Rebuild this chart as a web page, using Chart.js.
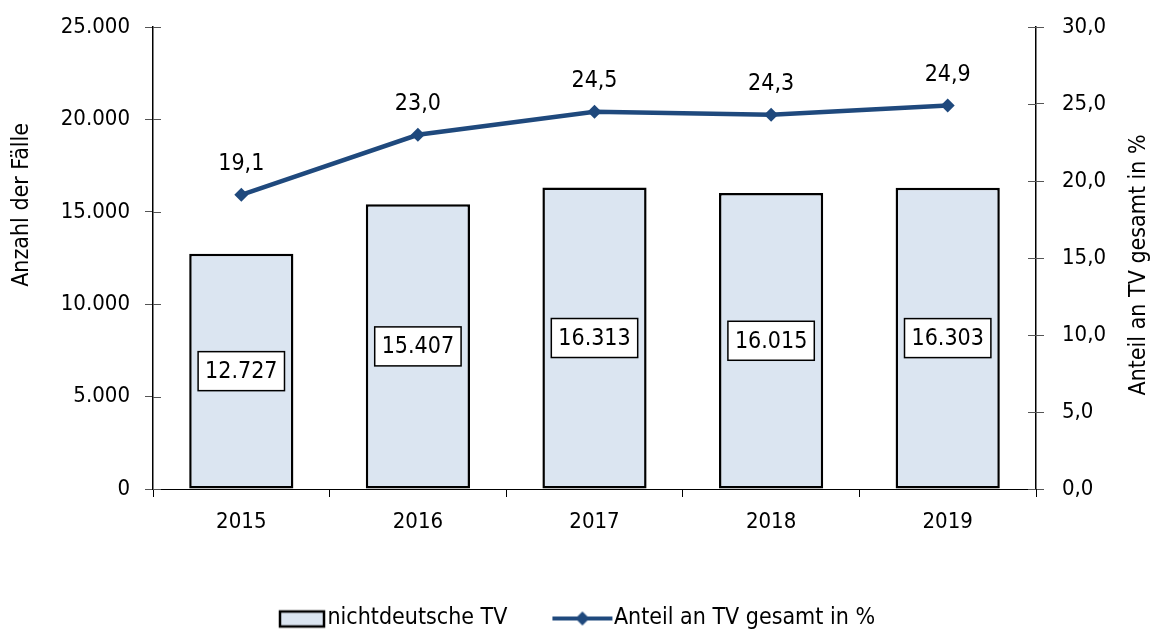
<!DOCTYPE html>
<html>
<head>
<meta charset="utf-8">
<script src="https://cdn.jsdelivr.net/npm/chart.js@4.4.1/dist/chart.umd.min.js"></script>
<style>
  html, body { margin: 0; padding: 0; background: #fff; }
  #wrap { width: 1155px; height: 633px; }
</style>
</head>
<body>
<div id="wrap"><canvas id="chart"></canvas></div>
<script>
// Nichtdeutsche Tatverdächtige (TV), 2015-2019
const years = ['2015', '2016', '2017', '2018', '2019'];
const faelle = [12727, 15407, 16313, 16015, 16303];
const anteil = [19.1, 23.0, 24.5, 24.3, 24.9];

const FONT = "'Liberation Sans Narrow', 'Arial Narrow', 'DejaVu Sans Condensed', sans-serif";
const barFill = '#DBE5F1';
const lineColor = '#1F497D';

function fmtThousands(v) {
    return String(Math.round(v)).replace(/\B(?=(\d{3})+(?!\d))/g, '.');
}
function fmtPct(v) {
    return v.toFixed(1).replace('.', ',');
}

// legend icons
function legendIcon(kind) {
    const c = document.createElement('canvas');
    c.width = 84;
    c.height = 22;
    const g = c.getContext('2d');
    if (kind === 'bar') {
        g.fillStyle = barFill;
        g.fillRect(36, 4, 44, 15);
        g.strokeStyle = '#000';
        g.lineWidth = 2.5;
        g.strokeRect(36, 4, 44, 15);
    } else {
        g.strokeStyle = lineColor;
        g.lineWidth = 4;
        g.beginPath();
        g.moveTo(22, 11);
        g.lineTo(82, 11);
        g.stroke();
        g.fillStyle = lineColor;
        g.beginPath();
        g.moveTo(52, 4);
        g.lineTo(59, 11);
        g.lineTo(52, 18);
        g.lineTo(45, 11);
        g.closePath();
        g.fill();
    }
    return c;
}
const icons = [legendIcon('bar'), legendIcon('line')];

const valueLabels = {
    id: 'valueLabels',
    afterDatasetsDraw(chart) {
        const ctx = chart.ctx;
        ctx.save();
        ctx.font = '23px ' + FONT;
        ctx.textAlign = 'center';
        ctx.textBaseline = 'middle';
        chart.getDatasetMeta(0).data.forEach((bar, i) => {
            const txt = fmtThousands(faelle[i]);
            const cy = (bar.y + bar.base) / 2;
            const w = ctx.measureText(txt).width + 14;
            const h = 39;
            ctx.fillStyle = '#fff';
            ctx.fillRect(bar.x - w / 2, cy - h / 2, w, h);
            ctx.strokeStyle = '#000';
            ctx.lineWidth = 1.5;
            ctx.strokeRect(bar.x - w / 2, cy - h / 2, w, h);
            ctx.fillStyle = '#000';
            ctx.fillText(txt, bar.x, cy + 1);
        });
        chart.getDatasetMeta(1).data.forEach((pt, i) => {
            ctx.fillStyle = '#000';
            ctx.fillText(fmtPct(anteil[i]), pt.x, pt.y - 31);
        });
        ctx.restore();
    }
};

// axis titles (both read bottom-to-top) and tick marks crossing the axis lines
const axisExtras = {
    id: 'axisExtras',
    afterDraw(chart) {
        const ctx = chart.ctx;
        const area = chart.chartArea;
        const h = area.bottom - area.top;
        ctx.save();
        ctx.strokeStyle = '#555';
        ctx.lineWidth = 1;
        ['y', 'y1'].forEach(id => {
            const sc = chart.scales[id];
            const x = id === 'y' ? area.left : area.right;
            const dir = id === 'y' ? 1 : -1;
            sc.ticks.forEach(t => {
                const py = Math.round(sc.getPixelForValue(t.value)) + 0.5;
                ctx.beginPath();
                ctx.moveTo(x, py);
                ctx.lineTo(x + dir * 8, py);
                ctx.stroke();
            });
        });
        ctx.fillStyle = '#000';
        ctx.font = '23px ' + FONT;
        ctx.textAlign = 'center';
        ctx.textBaseline = 'middle';
        ctx.translate(22, area.top + h * 0.385);
        ctx.rotate(-Math.PI / 2);
        ctx.fillText('Anzahl der Fälle', 0, 0);
        ctx.restore();
        ctx.save();
        ctx.fillStyle = '#000';
        ctx.font = '23px ' + FONT;
        ctx.textAlign = 'center';
        ctx.textBaseline = 'middle';
        ctx.translate(1139, area.top + h * 0.515);
        ctx.rotate(-Math.PI / 2);
        ctx.fillText('Anteil an TV gesamt in %', 0, 0);
        ctx.restore();
    }
};

const ctx = document.getElementById('chart').getContext('2d');
const myChart = new Chart(ctx, {
    type: 'bar',
    data: {
        labels: years,
        datasets: [{
            type: 'bar',
            label: 'nichtdeutsche TV',
            data: faelle,
            yAxisID: 'y',
            backgroundColor: barFill,
            borderColor: '#000',
            borderWidth: 2.5,
            borderSkipped: false,
            barPercentage: 0.59,
            categoryPercentage: 1,
            order: 1
        }, {
            type: 'line',
            label: 'Anteil an TV gesamt in %',
            data: anteil,
            yAxisID: 'y1',
            borderColor: lineColor,
            backgroundColor: lineColor,
            borderWidth: 4.5,
            pointStyle: 'rectRot',
            pointRadius: 7,
            pointBackgroundColor: lineColor,
            pointBorderWidth: 0,
            tension: 0,
            order: 0
        }]
    },
    options: {
        responsive: true,
        maintainAspectRatio: false,
        animation: false,
        layout: { autoPadding: false, padding: { top: 27, right: 24, bottom: -7 } },
        plugins: {
            tooltip: { enabled: false },
            legend: {
                position: 'bottom',
                labels: {
                    color: '#000',
                    font: { family: FONT, size: 23 },
                    usePointStyle: true,
                    pointStyleWidth: 60,
                    padding: 35,
                    generateLabels(chart) {
                        const items = Chart.defaults.plugins.legend.labels.generateLabels(chart);
                        items.sort((a, b) => a.datasetIndex - b.datasetIndex);
                        items.forEach(it => { it.pointStyle = icons[it.datasetIndex]; });
                        return items;
                    }
                }
            }
        },
        scales: {
            x: {
                grid: { offset: true, drawOnChartArea: false, tickLength: 8, color: '#000' },
                border: { color: '#000', width: 1 },
                ticks: { color: '#000', font: { family: FONT, size: 22 }, padding: 12 },
                afterFit(scale) { scale.height = 83; }
            },
            y: {
                position: 'left',
                min: 0,
                max: 25000,
                ticks: {
                    stepSize: 5000,
                    color: '#000',
                    font: { family: FONT, size: 22 },
                    padding: 15,
                    callback: v => fmtThousands(v)
                },
                grid: { drawOnChartArea: false, tickLength: 8, color: '#555' },
                border: { color: '#000', width: 1.5 },
                afterFit(scale) { scale.width = 153; scale.paddingTop = 0; scale.paddingBottom = 0; }
            },
            y1: {
                position: 'right',
                min: 0,
                max: 30,
                ticks: {
                    stepSize: 5,
                    color: '#000',
                    font: { family: FONT, size: 22 },
                    padding: 18,
                    callback: v => fmtPct(v)
                },
                grid: { drawOnChartArea: false, tickLength: 8, color: '#555' },
                border: { color: '#000', width: 1.5 },
                afterFit(scale) { scale.width = 95; scale.paddingTop = 0; scale.paddingBottom = 0; }
            }
        }
    },
    plugins: [valueLabels, axisExtras]
});
</script>
</body>
</html>
